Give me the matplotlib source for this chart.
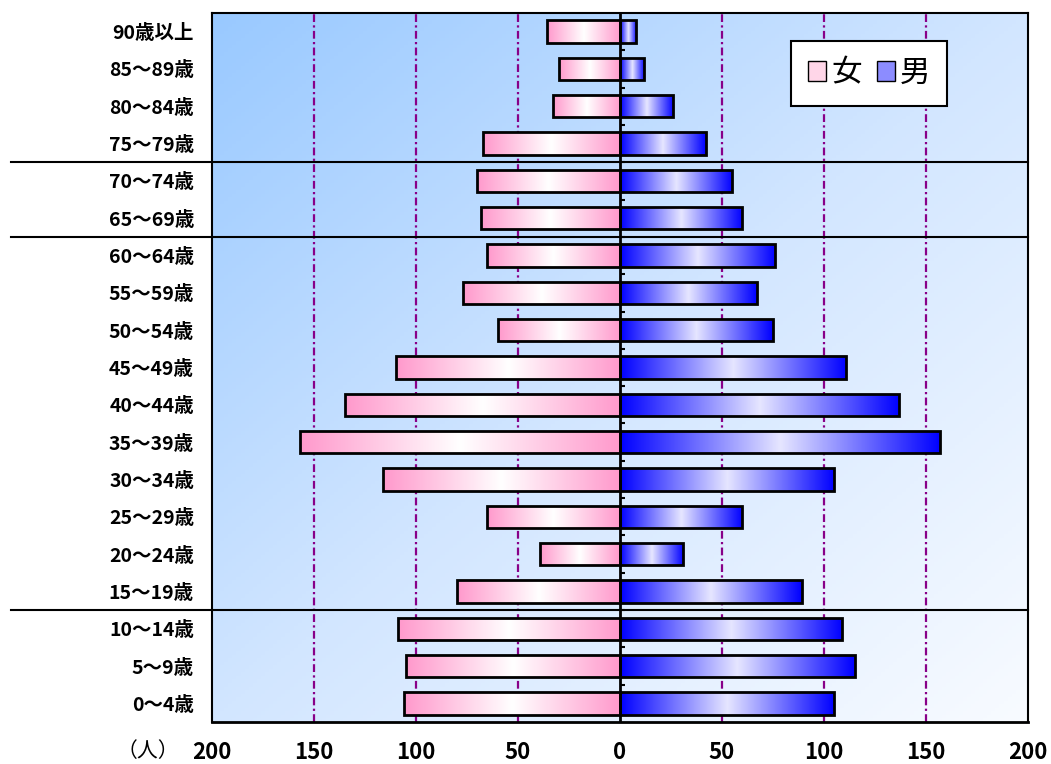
import matplotlib
matplotlib.use('Agg')
import matplotlib.pyplot as plt
import numpy as np
from matplotlib.colors import LinearSegmentedColormap
from matplotlib.patches import Patch

plt.rcParams['font.family'] = ['Noto Sans CJK JP', 'DejaVu Sans']

# 年齢階級（上から）と人数
ages = ['90歳以上', '85～89歳', '80～84歳', '75～79歳', '70～74歳', '65～69歳',
        '60～64歳', '55～59歳', '50～54歳', '45～49歳', '40～44歳', '35～39歳',
        '30～34歳', '25～29歳', '20～24歳', '15～19歳', '10～14歳', '5～9歳', '0～4歳']
female = [36, 30, 33, 67, 70, 68, 65, 77, 60, 110, 135, 157, 116, 65, 39, 80, 109, 105, 106]
male = [8, 12, 26, 42, 55, 60, 76, 67, 75, 111, 137, 157, 105, 60, 31, 89, 109, 115, 105]
xticks = [-200, -150, -100, -50, 0, 50, 100, 150, 200]
xticklabels = ['200', '150', '100', '50', '0', '50', '100', '150', '200']
group_breaks = [3, 5, 15]   # 区切り線を引く行（この行の下）

n = len(ages)
ypos = np.arange(n)[::-1]

pink_cmap = LinearSegmentedColormap.from_list('pink', ['#ff99cc', '#ffffff', '#ff99cc'])
blue_cmap = LinearSegmentedColormap.from_list('blue', ['#0000ff', '#e6e6ff', '#0000ff'])
bg_cmap = LinearSegmentedColormap.from_list('bg', ['#99c9ff', '#d2e6ff', '#f8fbff'])

fig = plt.figure(figsize=(10.51, 7.64), dpi=100)
ax = fig.add_axes([212/1051, 42/764, 816/1051, 709/764])

# 背景のグラデーション（左上→右下）
gx, gy = np.meshgrid(np.linspace(0, 1, 200), np.linspace(0, 1, 200))
ax.imshow((gx + (1 - gy)) / 2, cmap=bg_cmap, extent=[0, 1, 0, 1], origin='lower',
          transform=ax.transAxes, aspect='auto', zorder=0)

grad = np.linspace(0, 1, 256).reshape(1, -1)
bh = 0.6
bars_f = ax.barh(ypos, [-v for v in female], height=bh, facecolor='none',
                 edgecolor='black', lw=2, zorder=4)
bars_m = ax.barh(ypos, male, height=bh, facecolor='none',
                 edgecolor='black', lw=2, zorder=4)
for bars, cmap in ((bars_f, pink_cmap), (bars_m, blue_cmap)):
    for b in bars:
        x0, y0 = b.get_x(), b.get_y()
        x1, y1 = x0 + b.get_width(), y0 + b.get_height()
        im = ax.imshow(grad, cmap=cmap, extent=[min(x0, x1), max(x0, x1), y0, y1],
                       aspect='auto', zorder=3)
        im.set_clip_path(b)

# 目盛線
for x in [-150, -100, -50, 50, 100, 150]:
    ax.axvline(x, color='#880088', lw=1.6, ls=(0, (3.5, 1.5, 1, 1.5)), zorder=1)
ax.axvline(0, color='black', lw=2, zorder=5)
ax.hlines(np.arange(n - 1) + 0.5, 0, 2.5, color='black', lw=1.5, zorder=5)

# 年齢区分の区切り線
for i in group_breaks:
    ax.axhline(n - 1 - i - 0.5, xmin=-0.246, xmax=1, color='black', lw=1.5,
               clip_on=False, zorder=5)

ax.set_xlim(-200, 200)
ax.set_ylim(-0.5, n - 0.5)
ax.set_yticks(ypos)
ax.set_yticklabels(ages, fontsize=14, fontweight='bold')
ax.set_xticks(xticks)
ax.set_xticklabels(xticklabels, fontsize=16, fontweight='bold')
ax.tick_params(axis='y', length=0, pad=13)
ax.tick_params(axis='x', length=0, pad=14)
for s in ax.spines.values():
    s.set_color('black')
    s.set_linewidth(1.5)
ax.spines['bottom'].set_linewidth(2)

fig.text(148/1051, 1 - 751/764, '（人）', ha='center', va='center', fontsize=15)

handles = [Patch(facecolor='#ffd6e8', edgecolor='black', lw=1),
           Patch(facecolor='#8c8cff', edgecolor='black', lw=1)]
leg = ax.legend(handles, ['女', '男'], loc='upper right', bbox_to_anchor=(0.9007, 0.9605),
                borderaxespad=0, ncol=2, fontsize=22, frameon=True, fancybox=False,
                framealpha=1, edgecolor='black', handlelength=0.6, handleheight=0.6,
                handletextpad=0.15, columnspacing=0.5, borderpad=0.55)
leg.get_frame().set_linewidth(1.5)
leg.set_zorder(6)

fig.savefig('out.png', dpi=100)
